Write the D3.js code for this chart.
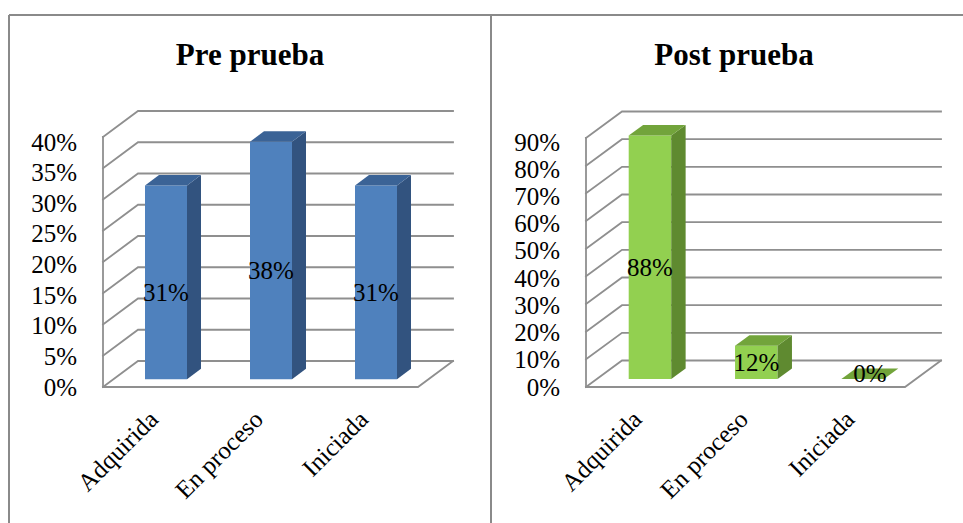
<!DOCTYPE html>
<html>
<head>
<meta charset="utf-8">
<script src="https://cdn.jsdelivr.net/npm/d3@7"></script>
<style>
  html, body { margin: 0; padding: 0; background: #fff; }
  svg { display: block; }
  svg text { font-family: "Liberation Serif", "Times New Roman", serif !important; fill: #000; }
</style>
</head>
<body>
<svg id="chart" width="963" height="523"></svg>
<script>
// Results by level of achievement, before and after the intervention
const categories = ["Adquirida", "En proceso", "Iniciada"];
const preValues = [31, 38, 31];
const postValues = [88, 12, 0];
const preTicks = [0, 5, 10, 15, 20, 25, 30, 35, 40];
const postTicks = [0, 10, 20, 30, 40, 50, 60, 70, 80, 90];
const titles = ["Pre prueba", "Post prueba"];

const svg = d3.select("#chart");
const gridColor = "#8f8f8f";
const labelSize = 25;

// Outer frame of the two panels
const frame = svg.append("g").attr("stroke", "#8a8a8a").attr("stroke-width", 2).attr("fill", "none");
frame.append("line").attr("x1", 9).attr("y1", 15).attr("x2", 963).attr("y2", 15);
frame.append("line").attr("x1", 9).attr("y1", 15).attr("x2", 9).attr("y2", 523);
frame.append("line").attr("x1", 491).attr("y1", 15).attr("x2", 491).attr("y2", 523);

const panels = [
  { title: titles[0], values: preValues, ticks: preTicks, cx: 250,
    x0: 103, y0: 387, W: 315, H: 250, dx: 35, dy: -26,
    front: "#4f81bd", top: "#3b6396", side: "#32537f" },
  { title: titles[1], values: postValues, ticks: postTicks, cx: 734,
    x0: 586, y0: 387, W: 319, H: 249, dx: 36, dy: -26.5,
    front: "#92d050", top: "#72a43b", side: "#5f8a30" }
];

panels.forEach(drawPanel);

function drawPanel(p) {
  const g = svg.append("g");
  const maxV = d3.max(p.ticks);

  // height in pixels for a value, and oblique projection of (x, depth, height)
  const h = d3.scaleLinear().domain([0, maxV]).range([0, p.H]);
  const x = d3.scaleBand().domain(categories).range([0, p.W])
    .paddingInner(0.6).paddingOuter(0.3);
  const proj = (xv, f, hp) => [p.x0 + xv + f * p.dx, p.y0 - hp + f * p.dy];

  // title
  g.append("text")
    .attr("x", p.cx).attr("y", 65)
    .attr("text-anchor", "middle")
    .attr("font-size", 31).attr("font-weight", "bold")
    .text(p.title);

  // walls: back-wall gridlines and left-wall diagonals
  const grid = g.append("g").attr("stroke", gridColor).attr("stroke-width", 1.8)
    .attr("fill", "none").attr("stroke-linecap", "square");
  p.ticks.forEach(t => {
    const a = proj(0, 0, h(t)), b = proj(0, 1, h(t)), c = proj(p.W, 1, h(t));
    grid.append("path").attr("d", `M${a}L${b}L${c}`);
  });
  // left wall front edge
  grid.append("path").attr("d", `M${proj(0, 0, 0)}L${proj(0, 0, h(maxV))}`);
  // floor front and right edges
  grid.append("path").attr("d", `M${proj(0, 0, 0)}L${proj(p.W, 0, 0)}L${proj(p.W, 1, 0)}`);

  // value axis labels
  const yLab = d3.scaleLinear().domain([0, maxV]).range([p.y0, p.y0 - 245]);
  const axis = g.append("g")
    .attr("transform", `translate(${p.x0 - 20},0)`)
    .call(d3.axisLeft(yLab).tickValues(p.ticks).tickSize(0).tickPadding(6)
      .tickFormat(d => d + "%"));
  axis.select(".domain").remove();
  axis.attr("font-size", labelSize).attr("font-family", null);

  // 3D bars
  const f1 = 0.3, f2 = 0.7;
  const bars = g.append("g");
  categories.forEach((cat, i) => {
    const v = p.values[i];
    const xl = x(cat), xr = x(cat) + x.bandwidth(), hv = h(v);
    const face = [proj(xl, f1, 0), proj(xr, f1, 0), proj(xr, f1, hv), proj(xl, f1, hv)];
    const side = [proj(xr, f1, 0), proj(xr, f2, 0), proj(xr, f2, hv), proj(xr, f1, hv)];
    const top = [proj(xl, f1, hv), proj(xr, f1, hv), proj(xr, f2, hv), proj(xl, f2, hv)];
    const poly = pts => "M" + pts.join("L") + "Z";
    if (hv > 0) {
      bars.append("path").attr("d", poly(face)).attr("fill", p.front);
      bars.append("path").attr("d", poly(side)).attr("fill", p.side);
    }
    bars.append("path").attr("d", poly(top)).attr("fill", p.top);

    // data label
    const bottomY = proj(xl, f1, 0)[1];
    const mid = bottomY - hv / 2;
    const off = hv > 50 ? 10 : (hv > 10 ? 0 : -6);
    const cx = (xl + xr) / 2 + p.x0 + f1 * p.dx + (hv > 0 ? 0 : (f2 - f1) * p.dx / 2);
    g.append("text")
      .attr("x", cx).attr("y", mid + off)
      .attr("text-anchor", "middle")
      .attr("dominant-baseline", "central")
      .attr("font-size", labelSize)
      .text(v + "%");
  });

  // category labels, rotated
  categories.forEach(cat => {
    const cxp = p.x0 + x(cat) + x.bandwidth() / 2;
    g.append("text")
      .attr("transform", `translate(${cxp + 4},421) rotate(-45)`)
      .attr("text-anchor", "end")
      .attr("font-size", labelSize)
      .text(cat);
  });
}
</script>
</body>
</html>
